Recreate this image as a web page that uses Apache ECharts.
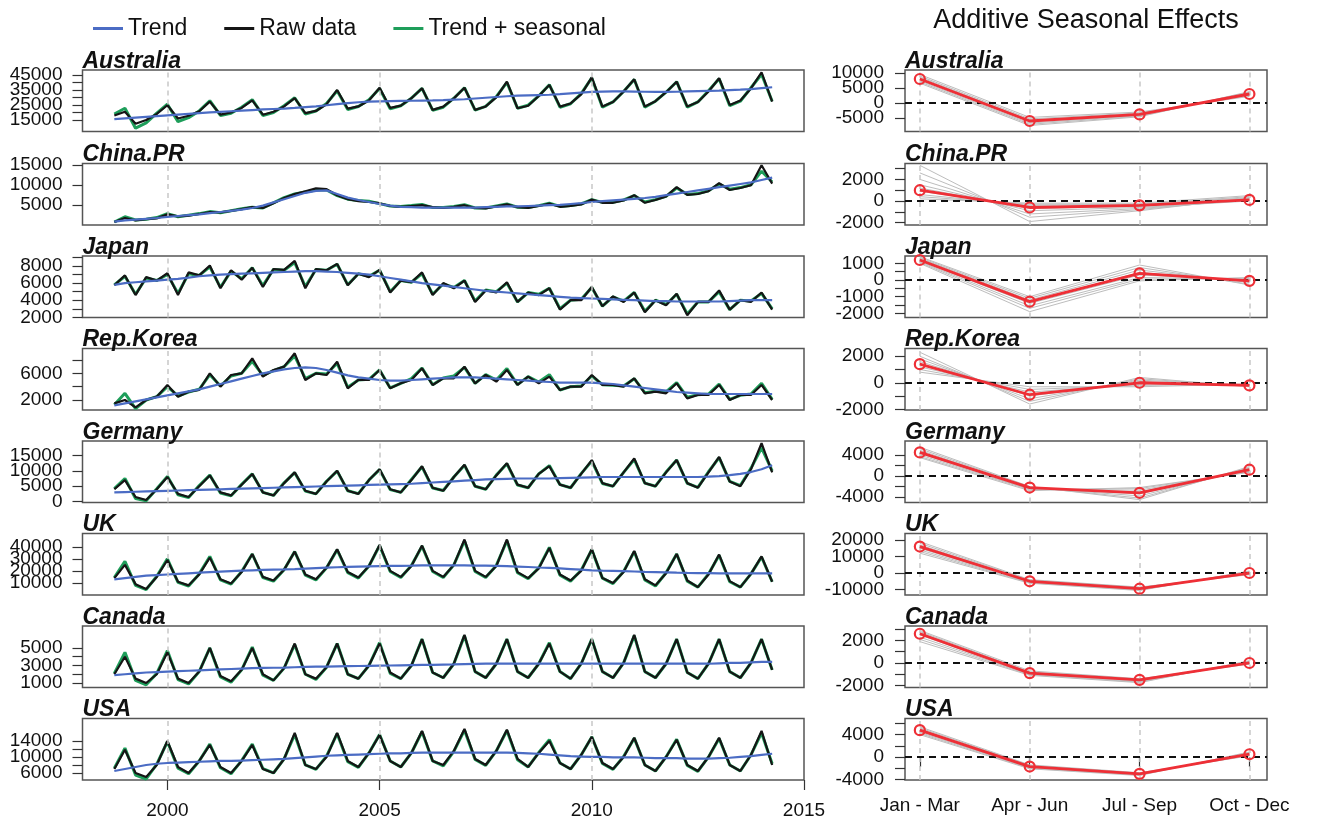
<!DOCTYPE html>
<html><head><meta charset="utf-8">
<script src="https://cdn.jsdelivr.net/npm/echarts@6/dist/echarts.min.js"></script>
<style>html,body{margin:0;padding:0;background:#fff}#c{width:1317px;height:823px}</style>
</head><body><div id="c"></div><script>
// ---------------- DATA ----------------
const countries = ['Australia','China.PR','Japan','Rep.Korea','Germany','UK','Canada','USA'];
const firstQuarter = 1998.75, quarterCount = 63;
const yearTicks = [2000, 2005, 2010, 2015];
const quarterNames = ['Jan - Mar', 'Apr - Jun', 'Jul - Sep', 'Oct - Dec'];

const ausRaw   = [18000,20500,12500,15000,19000,24800,16000,17800,20800,27200,18500,20000,23000,28000,18500,20500,24000,29500,19500,21000,25500,35000,22500,24000,28000,36500,23000,24500,29500,36100,21700,23900,29400,36500,21700,24000,30000,40500,22800,24500,31000,38300,23900,26000,32000,43400,23900,27000,34000,42100,23900,27500,33500,40500,23900,27000,34000,42800,25000,28000,36000,46800,27200];
const ausTrend = [15500,16000,16500,17000,17500,18000,18500,19000,19500,20000,20400,20800,21200,21600,22000,22300,22600,23000,23500,24000,24800,25500,26200,26800,27200,27400,27600,27700,27800,27900,28000,28200,28500,28800,29300,29800,30300,30800,31200,31400,31600,31800,32200,32700,33200,33700,33900,34000,34000,33900,33800,33700,33700,33800,34000,34200,34400,34600,34900,35200,35600,36200,36800];
const ausFit   = [19000,22800,9500,13000,19500,25500,13900,16500,21000,27800,18000,19500,23500,28500,18000,20000,24500,29800,19000,21000,26000,34500,22000,24000,28500,36000,22500,24500,29500,36000,21500,23500,29500,36500,21500,24000,30500,40000,22800,24800,31000,38500,23500,25800,32500,43000,23500,27000,34000,42000,23500,27500,33500,40500,23500,27000,34500,42500,24500,27500,36500,45500,27500];

const chnRaw   = [800,1800,1200,1500,1700,2700,2200,2400,2800,3300,3200,3600,4000,4500,4300,5500,6800,7800,8500,9200,9000,7500,6500,6000,5800,5500,4800,4600,4800,5000,4500,4300,4600,5000,4300,4200,4700,5200,4500,4300,4800,5400,4600,4800,5200,6400,5600,5600,6200,7500,5600,6300,7200,9500,7600,7800,8500,10500,8800,9300,10000,15000,10400];
const chnTrend = [900,1200,1400,1600,1800,2100,2300,2500,2700,3000,3300,3600,3900,4300,4900,5700,6500,7300,8100,8600,8700,7800,6900,6300,5800,5300,4900,4600,4500,4400,4400,4400,4400,4400,4400,4500,4600,4700,4700,4800,4900,5000,5100,5300,5500,5800,6000,6200,6400,6600,6800,7100,7500,7900,8300,8700,9100,9500,9900,10300,10700,11300,11900];
const chnFit   = [800,2100,1300,1500,1900,2900,2100,2500,2900,3400,3100,3600,4100,4500,4300,5600,6900,7800,8300,8800,8800,7400,6500,6200,6000,5400,4800,4700,4900,5200,4400,4400,4700,5100,4300,4300,4800,5300,4500,4400,4900,5500,4700,4900,5300,6400,5700,5700,6300,7400,5800,6400,7200,9300,7700,7900,8600,10300,9000,9400,10100,13500,10800];

const jpnRaw   = [5750,6900,4600,6700,6300,7150,4600,7250,6900,8050,5400,7500,6400,7800,5550,7650,7550,8600,5400,7650,7500,8250,5750,7100,6700,7550,4900,6300,6100,7250,4600,6000,5400,6300,3800,5150,4900,6100,3800,4900,4600,5400,2900,4000,4000,5550,3300,4450,3800,4900,2600,4000,3400,4750,2250,3800,3800,5150,2900,4000,3800,4900,2900];
const jpnTrend = [5800,6000,6100,6200,6300,6400,6500,6650,6800,6900,7000,7050,7100,7150,7200,7250,7300,7350,7400,7400,7350,7300,7200,7100,7000,6800,6600,6400,6200,6000,5850,5700,5550,5400,5250,5100,5000,4900,4800,4700,4600,4500,4400,4300,4250,4200,4150,4100,4050,4000,3950,3900,3900,3850,3850,3850,3850,3850,3900,3950,4000,4000,4000];
const jpnFit   = [5800,6800,4700,6600,6300,7000,4800,7100,6900,7900,5500,7400,6500,7800,5700,7600,7500,8400,5600,7600,7500,8200,5800,7100,6800,7500,5000,6300,6100,7100,4700,5900,5500,6300,3900,5200,5000,6000,3800,4900,4700,5400,3000,4000,4100,5500,3300,4400,3900,4900,2700,4000,3500,4700,2400,3800,3800,5000,2900,4000,3900,4800,3000];

const korRaw   = [1500,2000,900,2000,2500,4250,2500,3250,3500,6000,4000,5750,6000,8250,5500,6500,7000,9000,5000,6000,5750,7750,3750,5000,5000,6500,3750,4500,5000,6750,4250,5250,5250,7000,4500,5750,4750,6500,4250,5500,4500,5500,3500,4000,4000,5750,4250,4250,4000,5250,3000,3250,3000,4500,2250,2750,2750,4250,2000,2750,2750,4250,2000];
const korTrend = [1200,1500,1800,2100,2400,2700,3000,3300,3600,4000,4400,4800,5200,5600,6000,6300,6600,6800,6900,6800,6500,6100,5700,5400,5200,5000,4900,4900,5000,5100,5200,5300,5400,5400,5400,5300,5200,5100,5000,4900,4800,4700,4600,4600,4600,4600,4500,4400,4200,4000,3800,3600,3400,3200,3100,3000,2900,2900,2900,2900,2900,2900,2900];
const korFit   = [1300,3000,700,2000,2500,4000,2600,3200,3600,5800,4100,5600,6000,7800,5700,6400,7000,8600,5200,6000,5900,7500,3900,5000,5100,6500,3800,4500,5200,6800,4300,5300,5600,6900,4500,5800,5000,6700,4300,5500,4700,5800,3500,4000,4100,5600,4300,4200,4100,5200,3100,3300,3200,4600,2400,2800,2900,4400,2100,2700,2900,4500,2100];

const gerRaw   = [4000,7000,1500,500,4000,8000,2500,1500,5000,8500,3000,2000,5500,9000,3000,2000,6000,9500,3500,2500,6500,10000,3500,2500,7000,10500,4000,3000,7000,11500,4500,3500,8000,12000,5000,4000,8500,12500,5500,4500,9000,11500,5500,4500,9000,13500,6000,5000,9500,14000,6000,5000,9500,13500,6000,4500,9500,14500,6500,5000,10500,19000,9500];
const gerTrend = [3000,3100,3200,3300,3400,3500,3600,3700,3800,3900,4000,4100,4200,4300,4400,4500,4600,4700,4800,4900,5000,5100,5200,5300,5400,5500,5600,5700,5800,6000,6200,6400,6600,6800,7000,7200,7300,7400,7500,7500,7500,7500,7600,7700,7800,7900,8000,8000,8000,8000,8000,8000,8000,8000,8000,8000,8100,8300,8600,9000,9600,10500,11800];
const gerFit   = [4200,7500,1000,300,4200,8200,2200,1300,5200,8600,2800,1900,5600,9000,3000,2000,6100,9400,3400,2500,6600,9900,3500,2600,7000,10400,3900,3000,7200,11300,4400,3600,8000,11800,5000,4000,8600,12300,5400,4500,9000,11700,5500,4500,9100,13200,5900,5000,9500,13700,6000,5000,9600,13500,5900,4600,9700,14300,6600,5200,10800,17500,10000];

const ukRaw    = [14000,25000,9000,5000,15000,29000,11000,8000,17000,31000,13000,9500,19000,34000,15000,12000,21000,36000,17000,13000,22500,38000,19000,14500,24000,41500,20000,15000,24000,41000,20000,15000,25000,46000,20000,15000,24000,46000,19000,14000,22000,39000,17000,12000,20000,38000,14000,10000,19000,36500,13000,8000,18000,34000,12000,6500,17000,33500,11500,6500,17500,32000,11000];
const ukTrend  = [13000,14000,15000,16000,16500,17000,17500,18000,18500,19000,19400,19800,20200,20500,20800,21000,21200,21500,21900,22300,22700,23000,23300,23600,23800,24000,24100,24200,24300,24500,24500,24500,24500,24500,24400,24300,24200,24000,23600,23200,22800,22500,22000,21500,21000,20500,20200,20000,19800,19500,19200,19000,18800,18500,18300,18200,18100,18000,18000,18000,18000,18000,18000];
const ukFit    = [14500,28000,8000,4500,15500,30000,10500,7500,17500,32000,12500,9000,19500,34000,14500,11500,21000,36000,16500,12500,22500,37500,18500,14000,24000,41000,19500,14500,24500,40500,19500,14500,25000,45000,19500,14500,24500,45000,18500,13500,22500,39500,16500,11500,20500,37500,14000,9500,19500,36000,12500,7500,18500,34000,11500,6500,17500,33000,11000,6500,17500,31500,11000];

const canRaw   = [2000,4000,1500,1000,2000,4500,1500,1000,2300,5000,1800,1200,2500,5000,2000,1300,2700,5500,2000,1500,2800,5500,2000,1500,3000,5500,2200,1500,3000,6000,2200,1600,3200,6500,2300,1600,3200,6000,2300,1600,3200,5500,2300,1500,3200,6000,2300,1600,3300,6500,2300,1600,3200,6000,2200,1500,3200,6000,2300,1600,3300,6000,2500];
const canTrend = [1900,2000,2100,2200,2250,2300,2350,2400,2450,2500,2550,2600,2650,2700,2720,2740,2760,2800,2830,2860,2880,2900,2920,2940,2960,2980,3000,3020,3040,3060,3080,3100,3120,3150,3180,3200,3200,3200,3200,3200,3200,3200,3200,3200,3200,3200,3200,3200,3200,3200,3200,3200,3200,3200,3200,3200,3200,3250,3300,3300,3350,3400,3400];
const canFit   = [2100,4500,1300,800,2100,4700,1400,900,2300,5000,1700,1100,2500,5100,1900,1300,2700,5400,2000,1400,2800,5500,2000,1500,3000,5600,2100,1500,3000,6000,2200,1600,3200,6400,2300,1600,3200,6000,2300,1600,3200,5600,2300,1500,3200,6000,2300,1600,3300,6400,2300,1600,3200,6000,2200,1500,3200,6000,2300,1600,3300,6000,2500];

const usaRaw   = [7000,11800,6000,5000,8000,14000,7500,6000,9000,13000,7500,6000,9000,13000,7000,6000,9500,16000,8000,7000,10000,16000,9000,7500,11000,15500,9000,7500,11000,16500,9000,8000,11500,17000,9500,8000,11500,16800,9500,7500,11000,14000,8500,7000,10500,15000,8500,7000,10000,14800,8000,6500,10000,14300,8000,6500,10000,14800,8000,6500,10500,16500,8000];
const usaTrend = [6500,7000,7500,8000,8300,8500,8600,8700,8800,8900,9000,9000,9100,9200,9300,9400,9500,9700,9900,10100,10300,10400,10500,10600,10700,10800,10900,10900,11000,11100,11100,11100,11100,11100,11100,11100,11100,11100,11000,10900,10800,10600,10400,10200,10100,10000,10000,9900,9900,9900,9800,9700,9700,9700,9600,9600,9600,9700,9800,10000,10200,10500,10800];
const usaFit   = [7200,12200,5500,4500,8200,13800,7200,5800,9000,13200,7300,5800,9100,13200,7100,6000,9500,15600,8000,6900,10200,15800,8800,7400,11000,15600,9000,7500,11000,16300,9000,7800,11400,16700,9400,7900,11500,16600,9300,7500,11100,14300,8500,7000,10500,15000,8400,6900,10100,14700,8000,6500,10000,14400,7900,6400,10000,14600,8000,6500,10500,16000,8300];

// Seasonal effects (Jan-Mar, Apr-Jun, Jul-Sep, Oct-Dec): mean (red) and per-year (grey)
const ausSeasMean = [8000,-6000,-3800,3000];
const ausSeasYears = [[9500,-4800,-3000,2200],[9000,-5300,-3300,2500],[8600,-5700,-3600,2800],[8200,-6000,-3800,3000],[7800,-6300,-4000,3200],[7400,-6700,-4200,3400],[7000,-7100,-4400,3600],[6600,-7500,-4600,3800]];
const chnSeasMean = [1000,-600,-400,100];
const chnSeasYears = [[3300,-1900,-900,300],[2600,-1500,-800,200],[2000,-1200,-700,100],[1500,-900,-600,0],[1200,-700,-500,100],[900,-500,-400,200],[600,-400,-300,300],[400,-300,-300,400],[200,-200,-200,500]];
const jpnSeasMean = [1200,-1300,400,-50];
const jpnSeasYears = [[1400,-1000,900,-300],[1350,-1100,750,-250],[1300,-1200,600,-150],[1250,-1300,450,-50],[1150,-1400,300,0],[1100,-1550,150,50],[1050,-1700,50,100],[1000,-1900,-50,150]];
const korSeasMean = [1400,-900,0,-200];
const korSeasYears = [[2300,-1600,400,-300],[2000,-1400,300,-250],[1800,-1200,200,-200],[1600,-1000,100,-200],[1400,-900,0,-150],[1200,-700,-100,-150],[1000,-500,-200,-100],[800,-300,-300,-100]];
const gerSeasMean = [4500,-2200,-3200,1200];
const gerSeasYears = [[5500,-2000,-4500,1800],[5200,-2100,-4200,1600],[4900,-2200,-3800,1400],[4600,-2300,-3400,1200],[4300,-2400,-3000,1000],[4000,-2500,-2700,900],[3700,-2600,-2400,800],[3500,-2800,-2200,700]];
const ukSeasMean = [16000,-5000,-9500,0];
const ukSeasYears = [[19000,-4000,-8500,-1000],[18000,-4300,-8800,-600],[17000,-4600,-9100,-300],[16000,-5000,-9400,0],[15000,-5300,-9700,300],[14000,-5600,-10000,600],[13000,-5900,-10300,900],[12000,-6200,-10600,1200]];
const canSeasMean = [2600,-900,-1500,0];
const canSeasYears = [[2900,-700,-1400,-100],[2800,-800,-1450,-50],[2700,-850,-1500,0],[2600,-900,-1550,0],[2500,-950,-1600,50],[2300,-1000,-1650,100],[2100,-1050,-1700,150],[1900,-1100,-1750,200]];
const usaSeasMean = [4800,-1700,-3000,500];
const usaSeasYears = [[5400,-1400,-2800,200],[5200,-1500,-2900,300],[5000,-1600,-2950,400],[4800,-1700,-3000,500],[4600,-1800,-3050,600],[4400,-1900,-3100,700],[4200,-2000,-3200,800],[4000,-2100,-3300,900]];

// Tick values (ticks) and labelled values (labels), left and right panels
const leftTicks  = [[15000,20000,25000,30000,35000,40000,45000],[5000,10000,15000],[2000,3000,4000,5000,6000,7000,8000,9000],[2000,4000,6000,8000],[0,5000,10000,15000],[10000,20000,30000,40000],[1000,2000,3000,4000,5000],[6000,8000,10000,12000,14000]];
const leftLabels = [[15000,25000,35000,45000],[5000,10000,15000],[2000,4000,6000,8000],[2000,6000],[0,5000,10000,15000],[10000,20000,30000,40000],[1000,3000,5000],[6000,10000,14000]];
const rightTicks = [[-5000,0,5000,10000],[-2000,-1000,0,1000,2000,3000],[-2000,-1500,-1000,-500,0,500,1000,1500],[-2000,-1000,0,1000,2000],[-4000,-2000,0,2000,4000],[-10000,0,10000,20000],[-2000,-1000,0,1000,2000,3000],[-4000,-2000,0,2000,4000,6000]];
const rightLabels= [[-5000,0,5000,10000],[-2000,0,2000],[-2000,-1000,0,1000],[-2000,0,2000],[-4000,0,4000],[-10000,0,10000,20000],[-2000,0,2000],[-4000,0,4000]];

const rawSets   = [ausRaw, chnRaw, jpnRaw, korRaw, gerRaw, ukRaw, canRaw, usaRaw];
const trendSets = [ausTrend, chnTrend, jpnTrend, korTrend, gerTrend, ukTrend, canTrend, usaTrend];
const fitSets   = [ausFit, chnFit, jpnFit, korFit, gerFit, ukFit, canFit, usaFit];
const seasMeans = [ausSeasMean, chnSeasMean, jpnSeasMean, korSeasMean, gerSeasMean, ukSeasMean, canSeasMean, usaSeasMean];
const seasYears = [ausSeasYears, chnSeasYears, jpnSeasYears, korSeasYears, gerSeasYears, ukSeasYears, canSeasYears, usaSeasYears];

// ---------------- LAYOUT ----------------
const rowTop = [70, 163.5, 256, 348.5, 441, 533.5, 626, 718.5];
const rowH = 61.5;
const L = {left: 82.5, width: 721.5};
const R = {left: 905, width: 362};
const leftRange  = [[7300,48300],[50,15425],[1980,9170],[500,9720],[-300,19700],[0,51000],[490,7500],[4250,19600]];
const rightRange = [[-9500,11000],[-2220,3470],[-2250,1440],[-2050,2580],[-5050,6670],[-13300,23900],[-2180,3290],[-4100,6880]];

const FONT = 'Liberation Sans, Arial, sans-serif';
const C_TREND = '#4b6cc4', C_RAW = '#151515', C_FIT = '#1e9e5a', C_RED = '#ee2f36', C_GREY = '#bdbdbd';
const AX_FS = 19;

const times = Array.from({length: quarterCount}, (_, i) => firstQuarter + 0.25 * i);
const grids = [], xAxes = [], yAxes = [], series = [], titles = [];

titles.push({text: 'Additive Seasonal Effects', left: 1086, top: 7, textAlign: 'center', padding: 0,
  textStyle: {fontFamily: FONT, fontSize: 27, fontWeight: 'normal', color: '#111'}});

const vDash = {color: '#c8c8c8', type: [5, 4], width: 1.5};
const tickStyle = {color: '#333', width: 1.2};

// Two stacked y axes per panel (alternate labels each), so the tightly packed labels are all kept
function addYAxes(gi, range, ticks, labels, margin) {
  const yi = yAxes.length;
  const base = {margin: margin, hideOverlap: false, fontFamily: FONT, fontSize: AX_FS, color: '#111', formatter: v => String(v)};
  const even = labels.filter((_, k) => k % 2 === 0), odd = labels.filter((_, k) => k % 2 === 1);
  yAxes.push({type: 'value', gridIndex: gi, position: 'left', min: range[0], max: range[1],
    axisLine: {show: false}, splitLine: {show: false},
    axisTick: {show: true, customValues: ticks, length: 10, lineStyle: tickStyle},
    axisLabel: Object.assign({customValues: even}, base)});
  yAxes.push({type: 'value', gridIndex: gi, position: 'left', offset: 0, min: range[0], max: range[1],
    axisLine: {show: false}, splitLine: {show: false}, axisTick: {show: false},
    axisLabel: Object.assign({customValues: odd, show: odd.length > 0}, base)});
  return yi;
}

countries.forEach((name, r) => {
  const last = r === countries.length - 1;
  // ----- left panel -----
  const gi = grids.length;
  grids.push({left: L.left, top: rowTop[r], width: L.width, height: rowH, show: true,
    borderColor: '#555', borderWidth: 1.5, backgroundColor: 'transparent'});
  xAxes.push({type: 'value', gridIndex: gi, min: 1998, max: 2015,
    axisLine: {show: false}, splitLine: {show: false},
    axisTick: {show: last, customValues: yearTicks, length: 10, lineStyle: tickStyle},
    axisLabel: {show: last, customValues: yearTicks, margin: 21, hideOverlap: false, fontFamily: FONT, fontSize: AX_FS, color: '#111', formatter: v => String(v)}});
  const yi = addYAxes(gi, leftRange[r], leftTicks[r], leftLabels[r], 20);
  titles.push({text: name, left: L.left, top: rowTop[r] - 20, padding: 0,
    textStyle: {fontFamily: FONT, fontSize: 23, fontStyle: 'italic', fontWeight: 'bold', color: '#111'}});
  series.push({name: 'Trend + seasonal', type: 'line', xAxisIndex: gi, yAxisIndex: yi, symbol: 'none',
    data: times.map((t, i) => [t, fitSets[r][i]]), lineStyle: {color: C_FIT, width: 3}, itemStyle: {color: C_FIT},
    markLine: {silent: true, symbol: 'none', label: {show: false}, lineStyle: vDash,
      data: [{xAxis: 2000}, {xAxis: 2005}, {xAxis: 2010}]}, z: 2});
  series.push({name: 'Raw data', type: 'line', xAxisIndex: gi, yAxisIndex: yi, symbol: 'none',
    data: times.map((t, i) => [t, rawSets[r][i]]), lineStyle: {color: C_RAW, width: 2.2}, itemStyle: {color: C_RAW}, z: 3});
  series.push({name: 'Trend', type: 'line', xAxisIndex: gi, yAxisIndex: yi, symbol: 'none',
    data: times.map((t, i) => [t, trendSets[r][i]]), lineStyle: {color: C_TREND, width: 2.2}, itemStyle: {color: C_TREND}, z: 4});

  // ----- right panel -----
  const gj = grids.length;
  grids.push({left: R.left, top: rowTop[r], width: R.width, height: rowH, show: true,
    borderColor: '#555', borderWidth: 1.5, backgroundColor: 'transparent'});
  xAxes.push({type: 'value', gridIndex: gj, min: 0.865, max: 4.16,
    axisLine: {show: false}, splitLine: {show: false},
    axisTick: {show: last, customValues: [1, 2, 3, 4], length: 10, lineStyle: tickStyle},
    axisLabel: {show: last, customValues: [1, 2, 3, 4], margin: 16, hideOverlap: false, fontFamily: FONT, fontSize: AX_FS, color: '#111',
      formatter: v => quarterNames[Math.round(v) - 1]}});
  const yj = addYAxes(gj, rightRange[r], rightTicks[r], rightLabels[r], 21);
  titles.push({text: name, left: R.left, top: rowTop[r] - 20, padding: 0,
    textStyle: {fontFamily: FONT, fontSize: 23, fontStyle: 'italic', fontWeight: 'bold', color: '#111'}});
  seasYears[r].forEach((yr, k) => {
    series.push({type: 'line', xAxisIndex: gj, yAxisIndex: yj, symbol: 'none', silent: true,
      data: yr.map((v, q) => [q + 1, v]), lineStyle: {color: C_GREY, width: 1}, z: 2,
      markLine: k === 0 ? {silent: true, symbol: 'none', label: {show: false}, lineStyle: vDash,
        data: [{xAxis: 1}, {xAxis: 2}, {xAxis: 3}, {xAxis: 4}]} : undefined});
  });
  series.push({type: 'line', xAxisIndex: gj, yAxisIndex: yj, symbol: 'circle', symbolSize: 10,
    data: seasMeans[r].map((v, q) => [q + 1, v]),
    lineStyle: {color: C_RED, width: 2.8}, itemStyle: {color: 'rgba(255,255,255,0)', borderColor: C_RED, borderWidth: 2.2}, z: 5,
    markLine: {silent: true, symbol: 'none', label: {show: false}, lineStyle: {color: '#111', type: [7, 5], width: 2},
      data: [{yAxis: 0}]}});
});

const chart = echarts.init(document.getElementById('c'), null, {renderer: 'canvas'});
chart.setOption({
  animation: false,
  backgroundColor: '#fff',
  title: titles,
  legend: {data: ['Trend', 'Raw data', 'Trend + seasonal'], left: 88, top: 12, icon: 'rect', itemWidth: 30, itemHeight: 3,
    itemGap: 37, textStyle: {fontFamily: FONT, fontSize: 23, color: '#111'}},
  grid: grids, xAxis: xAxes, yAxis: yAxes, series: series
});
</script></body></html>
